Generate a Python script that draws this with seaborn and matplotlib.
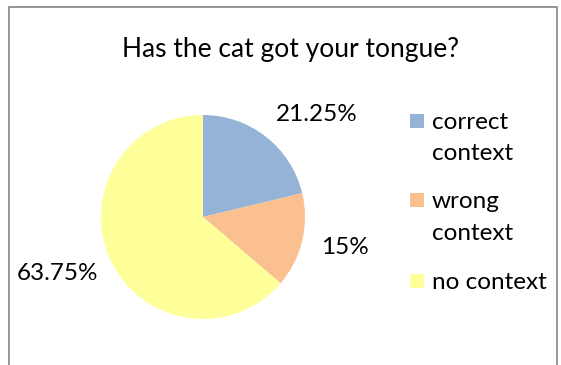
import matplotlib
matplotlib.use("Agg")
import matplotlib.pyplot as plt
from matplotlib.patches import Rectangle
import seaborn as sns

# Survey answers for the idiom
title = "Has the cat got your tongue?"
categories = ["correct context", "wrong context", "no context"]
legend_lines = [["correct", "context"], ["wrong", "context"], ["no context"]]
shares = [21.25, 15.0, 63.75]
value_labels = ["21.25%", "15%", "63.75%"]
colors = ["#95B3D7", "#FAC090", "#FFFF99"]

sns.set_theme(style="white")
plt.rcParams["font.family"] = ["Lato", "DejaVu Sans"]

W, H = 561, 365
fig = plt.figure(figsize=(W / 100, H / 100), dpi=100)
fig.patch.set_facecolor("white")


def fx(px):
    return px / W


def fy(py):
    return 1 - py / H


# chart-area frame (runs off the bottom edge)
fig.patches.append(Rectangle((fx(8.5), fy(400)), fx(556.5) - fx(8.5), fy(7.5) - fy(400),
                             transform=fig.transFigure, fill=False,
                             edgecolor="#8C8C8C", linewidth=1.3))

# pie plot area: centre (203, 217), radius 102 px
cx, cy, r = 203, 217, 102
ax = fig.add_axes([fx(cx - r), fy(cy + r), 2 * r / W, 2 * r / H])
wedges, _ = ax.pie(shares, colors=colors, startangle=90, counterclock=False,
                   radius=1.0, wedgeprops=dict(linewidth=0))
ax.set_xlim(-1, 1)
ax.set_ylim(-1, 1)
ax.set_aspect("auto")
ax.axis("off")

fs = 17.5
fig.text(fx(290), fy(49), title, ha="center", va="center", fontsize=19, color="black")

# data labels
label_pos = [(317, 114), (345, 248), (57, 273)]
for txt, (px, py) in zip(value_labels, label_pos):
    fig.text(fx(px), fy(py), txt, ha="center", va="center", fontsize=fs, color="black")

# legend: one baseline per text line
baselines = [[129, 160], [208, 240], [289]]
for lines, col, bls in zip(legend_lines, colors, baselines):
    fig.patches.append(Rectangle((fx(410), fy(bls[0] - 1)), 14 / W, 14 / H,
                                 transform=fig.transFigure, facecolor=col, edgecolor="none"))
    for line, bl in zip(lines, bls):
        fig.text(fx(432), fy(bl), line, ha="left", va="baseline", fontsize=fs, color="black")

fig.savefig("out.png", dpi=100, facecolor="white")
